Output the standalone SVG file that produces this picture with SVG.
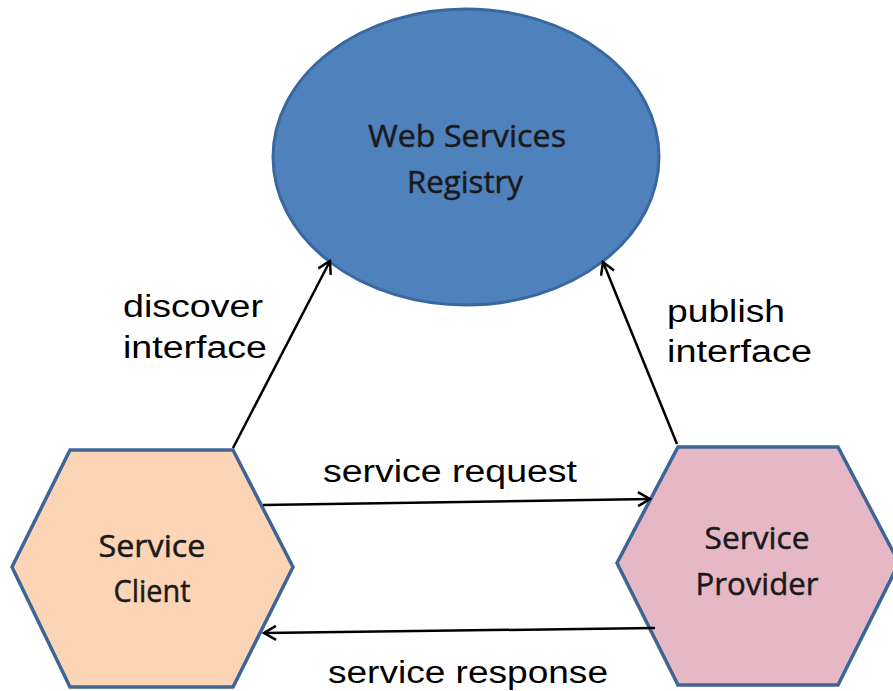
<svg xmlns="http://www.w3.org/2000/svg" width="893" height="691" viewBox="0 0 893 691">
<defs>
<style>
.node-text{font-family:"Open Sans","Noto Sans",sans-serif;font-size:31px;fill:#1a1a1a;stroke:#1a1a1a;stroke-width:0.5;text-anchor:middle}
.label{font-family:"Liberation Sans",Arial,sans-serif;font-size:31px;fill:#000}
.conn{stroke:#000;stroke-width:2.5;fill:none;marker-end:url(#arrow)}
</style>
<marker id="arrow" viewBox="0 0 16 16" refX="14" refY="8" markerWidth="16" markerHeight="16" markerUnits="userSpaceOnUse" orient="auto">
<polyline points="2,1 14,8 2,15" fill="none" stroke="#000" stroke-width="2.5"/>
</marker>
</defs>
<rect width="893" height="691" fill="#fff"/>
<g id="registry">
<ellipse cx="466" cy="157" rx="193" ry="148" fill="#4F81BD" stroke="#3A689E" stroke-width="3"/>
<text class="node-text" x="467" y="147" font-size="28" textLength="198" lengthAdjust="spacingAndGlyphs">Web Services</text>
<text class="node-text" x="465" y="193" font-size="28" textLength="116" lengthAdjust="spacingAndGlyphs">Registry</text>
</g>
<g id="client">
<polygon points="70,450 233,450 293,567 233,687 70,687 12,567" fill="#FBD5B5" stroke="#3E6596" stroke-width="3.5"/>
<text class="node-text" x="152" y="557" textLength="107" lengthAdjust="spacingAndGlyphs">Service</text>
<text class="node-text" x="152" y="602" textLength="77" lengthAdjust="spacingAndGlyphs">Client</text>
</g>
<g id="provider">
<polygon points="678,447 838,447 899,563 838,685 678,685 617,563" fill="#E6B8C6" stroke="#3E6596" stroke-width="3.5"/>
<text class="node-text" x="757" y="549" textLength="105" lengthAdjust="spacingAndGlyphs">Service</text>
<text class="node-text" x="757" y="595" textLength="123" lengthAdjust="spacingAndGlyphs">Provider</text>
</g>
<g id="connectors">
<line class="conn" x1="233" y1="448" x2="330" y2="261"/>
<line class="conn" x1="677" y1="444" x2="603" y2="262"/>
<line class="conn" x1="263" y1="505" x2="650" y2="499"/>
<line class="conn" x1="655" y1="628" x2="264" y2="633"/>
</g>
<g id="labels">
<text class="label" x="123" y="317" textLength="140" lengthAdjust="spacingAndGlyphs">discover</text>
<text class="label" x="123" y="358" textLength="144" lengthAdjust="spacingAndGlyphs">interface</text>
<text class="label" x="667" y="322" textLength="118" lengthAdjust="spacingAndGlyphs">publish</text>
<text class="label" x="667" y="362" textLength="145" lengthAdjust="spacingAndGlyphs">interface</text>
<text class="label" x="323" y="482" textLength="254" lengthAdjust="spacingAndGlyphs">service request</text>
<text class="label" x="328" y="683" textLength="280" lengthAdjust="spacingAndGlyphs">service response</text>
</g>
</svg>
